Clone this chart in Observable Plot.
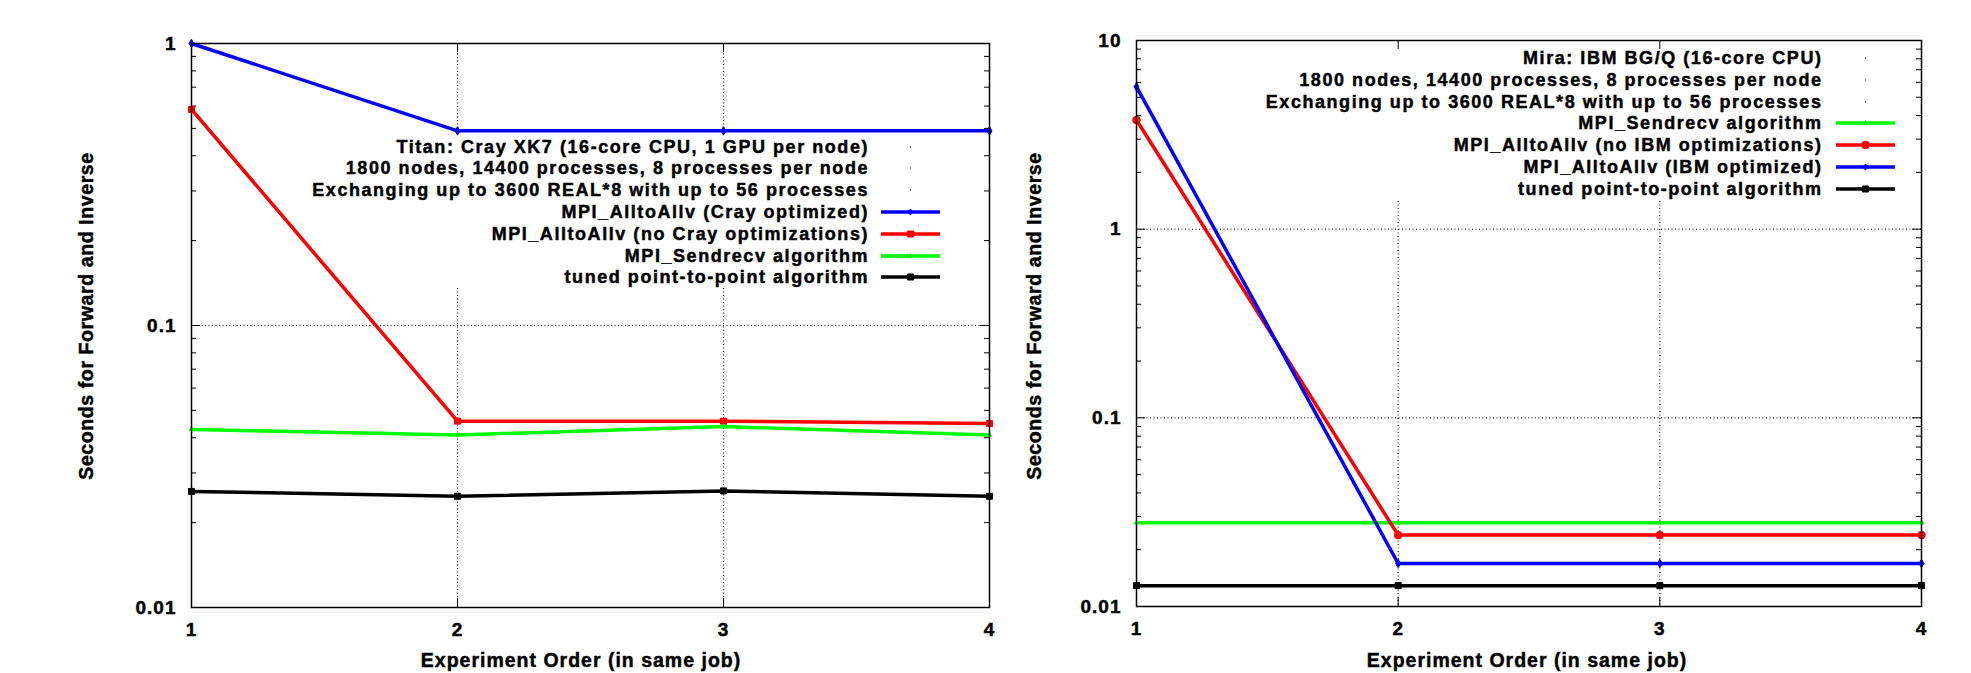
<!DOCTYPE html>
<html><head><meta charset="utf-8">
<script src="https://cdn.jsdelivr.net/npm/d3@7"></script>
<script src="https://cdn.jsdelivr.net/npm/@observablehq/plot@0.6"></script>
<style>
body{margin:0;background:#fff;}
#wrap{position:relative;width:1971px;height:673px;overflow:hidden;font-family:"Liberation Sans",Arial,sans-serif;font-weight:bold;color:#000;background:#fff;}
.plot{position:absolute;top:0;}
.plot svg text{stroke:#000;stroke-width:0.45px;}
.mask{position:absolute;background:#fff;}
.legend{position:absolute;}
.row{position:absolute;left:0;width:100%;height:22px;}
.row .t{position:absolute;top:0;white-space:nowrap;font-size:18px;line-height:22px;letter-spacing:1.55px;-webkit-text-stroke:0.45px #000;}
.row svg{position:absolute;top:0;}
.lab{position:absolute;white-space:nowrap;font-size:19.5px;line-height:24px;-webkit-text-stroke:0.45px #000;}
</style></head>
<body><div id="wrap"></div>
<script>
// ---------------- data ----------------
const order = [1, 2, 3, 4];
const xTicks = [1, 2, 3, 4];

// Titan (Cray XK7)
const titanCrayOpt   = [1.0, 0.49, 0.49, 0.49];
const titanNoCray    = [0.584, 0.0458, 0.0458, 0.0449];
const titanSendrecv  = [0.0428, 0.0409, 0.0438, 0.0409];
const titanTuned     = [0.0258, 0.0248, 0.0259, 0.0248];
const titanYTicks    = [0.01, 0.1, 1];
const titanHeader = [
  "Titan: Cray XK7 (16-core CPU, 1 GPU per node)",
  "1800 nodes, 14400 processes, 8 processes per node",
  "Exchanging up to 3600 REAL*8 with up to 56 processes"
];
const titanNames = [
  "MPI_AlltoAllv (Cray optimized)",
  "MPI_AlltoAllv (no Cray optimizations)",
  "MPI_Sendrecv algorithm",
  "tuned point-to-point algorithm"
];

// Mira (IBM BG/Q)
const miraSendrecv = [0.0278, 0.0278, 0.0278, 0.0278];
const miraNoIBM    = [3.79, 0.0239, 0.0239, 0.0239];
const miraIBMOpt   = [5.68, 0.0169, 0.0169, 0.0169];
const miraTuned    = [0.0129, 0.0129, 0.0129, 0.0129];
const miraYTicks   = [0.01, 0.1, 1, 10];
const miraHeader = [
  "Mira: IBM BG/Q (16-core CPU)",
  "1800 nodes, 14400 processes, 8 processes per node",
  "Exchanging up to 3600 REAL*8 with up to 56 processes"
];
const miraNames = [
  "MPI_Sendrecv algorithm",
  "MPI_AlltoAllv (no IBM optimizations)",
  "MPI_AlltoAllv (IBM optimized)",
  "tuned point-to-point algorithm"
];

const yLabel = "Seconds for Forward and Inverse";
const xLabel = "Experiment Order (in same job)";

// ---------------- styles ----------------
const BLUE = "#0000ff", RED = "#ff0000", GREEN = "#00ff00", BLACK = "#000000";
const mk = {
  blue:  {symbol: "diamond", r: 2.6},
  redX:  {symbol: "square", r: 3.4},
  redO:  {symbol: "circle", r: 3.8},
  green: {symbol: "triangle", r: 1.6},
  black: {symbol: "square", r: 3.4}
};

function tbl(vals) { return order.map((x, i) => ({x, y: vals[i]})); }

const fontStyle = {fontFamily: "'Liberation Sans', Arial, sans-serif", fontSize: "19px", fontWeight: "bold", letterSpacing: "1px", background: "transparent", overflow: "visible", color: "#000"};

function chart(cfg) {
  const {width, height, ml, mr, mt, mb, yDomain, yMajor, series} = cfg;
  const W = width - ml - mr, H = height - mt - mb;
  const minor = d3.scaleLog().domain(yDomain).ticks().filter(v => !yMajor.some(m => Math.abs(m - v) / m < 1e-9));
  const gridY = yMajor.filter(v => v > yDomain[0] && v <= yDomain[1]);
  const common = {
    width, height, marginLeft: ml, marginRight: mr, marginTop: mt, marginBottom: mb,
    style: fontStyle
  };
  // background layer: grid only
  const bg = Plot.plot({...common,
    x: {type: "linear", domain: [1, 4], axis: null},
    y: {type: "log", domain: yDomain, axis: null},
    marks: [
      Plot.ruleY(gridY, {y: d => d, stroke: "#000", strokeWidth: 1, strokeDasharray: "1,2.5"}),
      Plot.ruleX([2, 3], {x: d => d, stroke: "#000", strokeWidth: 1, strokeDasharray: "1,2.5"})
    ]});
  // foreground layer: ticks, data, frame, axes
  const marks = [
    Plot.tickY(yMajor, {y: d => d, insetRight: W - 9, strokeWidth: 1}),
    Plot.tickY(yMajor, {y: d => d, insetLeft: W - 9, strokeWidth: 1}),
    Plot.tickY(minor, {y: d => d, insetRight: W - 5, strokeWidth: 1}),
    Plot.tickY(minor, {y: d => d, insetLeft: W - 5, strokeWidth: 1}),
    Plot.tickX([2, 3], {x: d => d, insetTop: H - 9, strokeWidth: 1}),
    Plot.tickX([2, 3], {x: d => d, insetBottom: H - 9, strokeWidth: 1})
  ];
  for (const s of series) {
    const d = tbl(s.values);
    marks.push(Plot.line(d, {x: "x", y: "y", stroke: s.color, strokeWidth: 3.5}));
    const m = s.marker;
    marks.push(Plot.dot(d, {x: "x", y: "y", symbol: m.symbol, r: m.r, fill: s.color, stroke: s.color, strokeWidth: 1}));
  }
  marks.push(Plot.frame({stroke: "#000", strokeWidth: 1.5}));
  marks.push(Plot.axisX({ticks: xTicks, tickSize: 0, tickPadding: 15, tickFormat: d => String(d), label: null, fontSize: 19, fontWeight: "bold"}));
  marks.push(Plot.axisY({ticks: yMajor, tickSize: 0, tickPadding: 15, tickFormat: d => String(d), label: null, fontSize: 19, fontWeight: "bold"}));
  const fg = Plot.plot({...common,
    x: {type: "linear", domain: [1, 4]},
    y: {type: "log", domain: yDomain},
    marks});
  return {bg, fg};
}

const wrap = document.getElementById("wrap");

function place(el, left) {
  const d = document.createElement("div");
  d.className = "plot";
  d.style.left = left + "px";
  d.appendChild(el);
  wrap.appendChild(d);
}
function mask(m) {
  const d = document.createElement("div");
  d.className = "mask";
  Object.assign(d.style, {left: m.left + "px", top: m.top + "px", width: m.width + "px", height: m.height + "px"});
  wrap.appendChild(d);
}

const titan = chart({
  width: 1000, height: 673, ml: 191, mr: 11, mt: 43, mb: 66,
  yDomain: [0.01, 1], yMajor: titanYTicks,
  series: [
    {values: titanCrayOpt, color: BLUE, marker: mk.blue},
    {values: titanNoCray, color: RED, marker: mk.redX},
    {values: titanSendrecv, color: GREEN, marker: mk.green},
    {values: titanTuned, color: BLACK, marker: mk.black}
  ]
});
const mira = chart({
  width: 971, height: 673, ml: 136, mr: 50, mt: 40, mb: 67,
  yDomain: [0.01, 10], yMajor: miraYTicks,
  series: [
    {values: miraSendrecv, color: GREEN, marker: mk.green},
    {values: miraNoIBM, color: RED, marker: mk.redO},
    {values: miraIBMOpt, color: BLUE, marker: mk.blue},
    {values: miraTuned, color: BLACK, marker: mk.black}
  ]
});

const titanBox = {left: 303, top: 133, width: 648, height: 154};
const miraBox = {left: 1235, top: 41, width: 670, height: 158};

place(titan.bg, 0);
place(mira.bg, 1000);
mask(titanBox);
mask(miraBox);
place(titan.fg, 0);
place(mira.fg, 1000);

// ---------------- legends ----------------
function sampleSVG(color, marker) {
  const ns = "http://www.w3.org/2000/svg";
  const svg = document.createElementNS(ns, "svg");
  svg.setAttribute("width", 60); svg.setAttribute("height", 22);
  if (!color) {
    const c = document.createElementNS(ns, "rect");
    c.setAttribute("x", 29); c.setAttribute("y", 10.5); c.setAttribute("width", 1); c.setAttribute("height", 1);
    c.setAttribute("fill", "#000");
    svg.appendChild(c);
    return svg;
  }
  const l = document.createElementNS(ns, "line");
  l.setAttribute("x1", 0); l.setAttribute("x2", 59); l.setAttribute("y1", 11); l.setAttribute("y2", 11);
  l.setAttribute("stroke", color); l.setAttribute("stroke-width", 3.5);
  svg.appendChild(l);
  const g = document.createElementNS(ns, "path");
  const sym = {circle: d3.symbolCircle, square: d3.symbolSquare, diamond: d3.symbolDiamond2, triangle: d3.symbolTriangle}[marker.symbol];
  g.setAttribute("d", d3.symbol(sym, Math.PI * marker.r * marker.r)());
  g.setAttribute("transform", "translate(29.5,11)");
  g.setAttribute("fill", color); g.setAttribute("stroke", color);
  svg.appendChild(g);
  return svg;
}

function legend(box, cfg) {
  const el = document.createElement("div");
  el.className = "legend";
  Object.assign(el.style, {left: box.left + "px", top: box.top + "px", width: box.width + "px", height: box.height + "px"});
  cfg.rows.forEach((r, i) => {
    const row = document.createElement("div");
    row.className = "row";
    row.style.top = (cfg.firstCenter - box.top + i * cfg.step - 11) + "px";
    const t = document.createElement("div");
    t.className = "t";
    t.textContent = r.text;
    t.style.right = (box.left + box.width - cfg.textRight) + "px";
    row.appendChild(t);
    const s = sampleSVG(r.color, r.marker);
    s.style.left = (cfg.sampleLeft - box.left) + "px";
    row.appendChild(s);
    el.appendChild(row);
  });
  wrap.appendChild(el);
}

legend(titanBox, {
  textRight: 869, sampleLeft: 881, firstCenter: 146.5, step: 21.8,
  rows: [
    ...titanHeader.map(t => ({text: t})),
    {text: titanNames[0], color: BLUE, marker: mk.blue},
    {text: titanNames[1], color: RED, marker: mk.redX},
    {text: titanNames[2], color: GREEN, marker: mk.green},
    {text: titanNames[3], color: BLACK, marker: mk.black}
  ]
});

legend(miraBox, {
  textRight: 1822.5, sampleLeft: 1836, firstCenter: 57.7, step: 21.9,
  rows: [
    ...miraHeader.map(t => ({text: t})),
    {text: miraNames[0], color: GREEN, marker: mk.green},
    {text: miraNames[1], color: RED, marker: mk.redO},
    {text: miraNames[2], color: BLUE, marker: mk.blue},
    {text: miraNames[3], color: BLACK, marker: mk.black}
  ]
});

// ---------------- axis titles ----------------
function label(text, cx, cy, rotate) {
  const d = document.createElement("div");
  d.className = "lab";
  d.textContent = text;
  d.style.left = cx + "px"; d.style.top = cy + "px";
  d.style.letterSpacing = rotate ? "0.6px" : "1px";
  d.style.transform = "translate(-50%,-50%)" + (rotate ? " rotate(-90deg)" : "");
  wrap.appendChild(d);
}
label(yLabel, 86, 316, true);
label(yLabel, 1034, 316, true);
label(xLabel, 581, 660, false);
label(xLabel, 1527, 660, false);
</script>
</body></html>
